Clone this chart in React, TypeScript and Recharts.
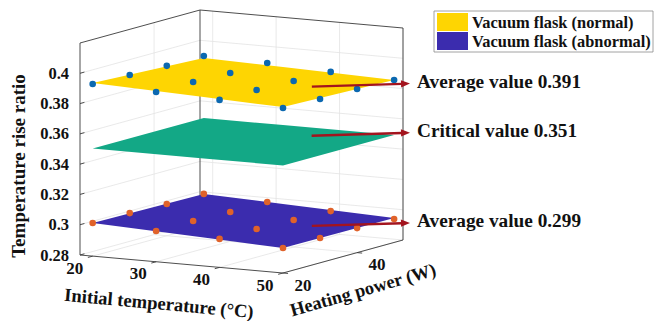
import React from 'react';
import {
  ComposedChart,
  Area,
  Scatter,
  XAxis,
  YAxis,
  ReferenceLine,
  ReferenceDot,
  ReferenceArea,
} from 'recharts';

// ---------------- data ----------------
const initialTemps = [20, 30, 40, 50]; // °C
const heatingPowers = [20, 30, 40, 50]; // W

// measured ratios, vacuum flask (normal), one array per heating power, across initialTemps
const normal20W = [0.3937, 0.3921, 0.3906, 0.389];
const normal30W = [0.3929, 0.392, 0.3904, 0.3882];
const normal40W = [0.3922, 0.3912, 0.3896, 0.3881];
const normal50W = [0.392, 0.3911, 0.3889, 0.3873];

// measured ratios, vacuum flask (abnormal)
const abnormal20W = [0.3019, 0.3003, 0.2988, 0.2965];
const abnormal30W = [0.3017, 0.3002, 0.2986, 0.2964];
const abnormal40W = [0.301, 0.2994, 0.2978, 0.2962];
const abnormal50W = [0.3009, 0.2993, 0.297, 0.2955];

// fitted planes: values at corners [20°C/20W, 20°C/50W, 50°C/20W, 50°C/50W]
const planeTemps = [20, 50];
const planePowers = [20, 50];
const normalPlane = [0.3943, 0.3907, 0.3896, 0.3873];
const criticalPlane = [0.351, 0.351, 0.351, 0.351];
const abnormalPlane = [0.3019, 0.3009, 0.2965, 0.2961];

const annotationValues = [0.391, 0.351, 0.299];
const annotationLabels = ['Average value 0.391', 'Critical value 0.351', 'Average value 0.299'];
const annotationAt = [
  [45.5, 35.5],
  [40.5, 44],
  [45.5, 35.5],
];

// axes
const tempLimits = [18, 50];
const powerLimits = [20, 52.4];
const ratioLimits = [0.28, 0.42];
const tempTicks = [20, 30, 40, 50];
const powerTicks = [20, 40];
const ratioTicks = [0.28, 0.3, 0.32, 0.34, 0.36, 0.38, 0.4];
const ratioTickLabels = ['0.28', '0.3', '0.32', '0.34', '0.36', '0.38', '0.4'];
const legendLabels = ['Vacuum flask (normal)', 'Vacuum flask (abnormal)'];

// ---------------- layout / styles ----------------
const W = 655;
const H = 321;
const FONT = '"Liberation Serif", "Times New Roman", serif';
const ORIGIN = { u: 80, v: 255 };
const EX = { u: 203 / 32, v: 18 / 32 };
const EY = { u: 120 / 32.4, v: -33 / 32.4 };
const EZ = -212 / 0.14;
const COLORS = {
  normal: '#FED502',
  critical: '#13A886',
  abnormal: '#3B2CAE',
  normalDot: '#0B68B0',
  abnormalDot: '#E0622A',
  arrow: '#A3141E',
  grid: '#E3E3E3',
  box: '#3A3A3A',
};
const ARROW_HEAD_U = 410;
const LEGEND = { u1: 434, u2: 653, v1: 11, v2: 52, sw1: 437, sw2: 468, textU: 472 };
const Z_LINES = -10;
const Z_PLANES = 100;
const Z_TOP = 1500;

function proj(t: number, p: number, r: number) {
  const dt = t - tempLimits[0];
  const dp = p - powerLimits[0];
  const dr = r - ratioLimits[0];
  return {
    u: ORIGIN.u + dt * EX.u + dp * EY.u,
    v: ORIGIN.v + dt * EX.v + dp * EY.v + dr * EZ,
  };
}

function lerp(a: number, b: number, f: number) {
  return a + (b - a) * f;
}

function quad(z: number[]) {
  const [ta, tb] = planeTemps;
  const [pa, pb] = planePowers;
  const L = proj(ta, pa, z[0]);
  const B = proj(ta, pb, z[1]);
  const F = proj(tb, pa, z[2]);
  const R = proj(tb, pb, z[3]);
  return [
    [L.v, L.v],
    [B.v, lerp(L.v, F.v, (B.u - L.u) / (F.u - L.u))],
    [lerp(B.v, R.v, (F.u - B.u) / (R.u - B.u)), F.v],
    [R.v, R.v],
  ];
}

const planeU = [
  proj(planeTemps[0], planePowers[0], 0).u,
  proj(planeTemps[0], planePowers[1], 0).u,
  proj(planeTemps[1], planePowers[0], 0).u,
  proj(planeTemps[1], planePowers[1], 0).u,
];
const qN = quad(normalPlane);
const qC = quad(criticalPlane);
const qA = quad(abnormalPlane);
const planeRows = planeU.map((u, i) => ({ u, normal: qN[i], critical: qC[i], abnormal: qA[i] }));

function points(rows: number[][]) {
  const out: { u: number; v: number }[] = [];
  rows.forEach((row, j) =>
    row.forEach((r, i) => {
      out.push(proj(initialTemps[i], heatingPowers[j], r));
    })
  );
  return out;
}
const normalPoints = points([normal20W, normal30W, normal40W, normal50W]);
const abnormalPoints = points([abnormal20W, abnormal30W, abnormal40W, abnormal50W]);

// --------------- helpers ---------------
type Seg = [{ u: number; v: number }, { u: number; v: number }];

function seg(key: string, s: Seg, stroke: string, width: number, z: number, shape?: any) {
  const extra: any = { zIndex: z };
  return (
    <ReferenceLine
      key={key}
      segment={[
        { x: s[0].u, y: s[0].v },
        { x: s[1].u, y: s[1].v },
      ]}
      stroke={stroke}
      strokeWidth={width}
      ifOverflow="visible"
      shape={shape}
      {...extra}
    />
  );
}

function text(
  key: string,
  u: number,
  v: number,
  value: string,
  size: number,
  anchor: 'start' | 'middle' | 'end' = 'middle',
  angle = 0
) {
  const extra: any = { zIndex: Z_TOP };
  return (
    <ReferenceDot
      key={key}
      x={u}
      y={v}
      r={0}
      fill="none"
      stroke="none"
      ifOverflow="visible"
      {...extra}
      label={(props: any) => {
        const vb = props.viewBox || { x: 0, y: 0, width: 0, height: 0 };
        const cx = vb.x + (vb.width || 0) / 2;
        const cy = vb.y + (vb.height || 0) / 2;
        return (
          <text
            x={cx}
            y={cy}
            textAnchor={anchor}
            dominantBaseline="central"
            fontFamily={FONT}
            fontWeight="bold"
            fontSize={size}
            fill="#111"
            transform={angle ? `rotate(${angle} ${cx} ${cy})` : undefined}
          >
            {value}
          </text>
        );
      }}
    />
  );
}

const arrowShape = (props: any) => {
  const { x1, y1, x2, y2 } = props;
  const a = Math.atan2(y2 - y1, x2 - x1);
  const len = 9;
  const hw = 3.6;
  const bx = x2 - len * Math.cos(a);
  const by = y2 - len * Math.sin(a);
  const nx = -Math.sin(a) * hw;
  const ny = Math.cos(a) * hw;
  return (
    <g>
      <line x1={x1} y1={y1} x2={bx + 1} y2={by} stroke={COLORS.arrow} strokeWidth={2.4} />
      <polygon
        points={`${x2},${y2} ${bx + nx},${by + ny} ${bx - nx},${by - ny}`}
        fill={COLORS.arrow}
      />
    </g>
  );
};

const dot = (color: string) => (props: any) => (
  <circle cx={props.cx} cy={props.cy} r={3.3} fill={color} />
);

// --------------- geometry of box and grid ---------------
const [t0, t1] = tempLimits;
const [p0, p1] = powerLimits;
const [r0, r1] = ratioLimits;

const gridSegs: Seg[] = [];
ratioTicks.forEach((r) => {
  gridSegs.push([proj(t0, p0, r), proj(t0, p1, r)]);
  gridSegs.push([proj(t0, p1, r), proj(t1, p1, r)]);
});
powerTicks.forEach((p) => {
  if (p > p0) {
    gridSegs.push([proj(t0, p, r0), proj(t0, p, r1)]);
    gridSegs.push([proj(t0, p, r0), proj(t1, p, r0)]);
  }
});
tempTicks.forEach((t) => {
  gridSegs.push([proj(t, p1, r0), proj(t, p1, r1)]);
  gridSegs.push([proj(t, p0, r0), proj(t, p1, r0)]);
});

const boxSegs: Seg[] = [
  [proj(t0, p0, r0), proj(t0, p0, r1)],
  [proj(t0, p1, r0), proj(t0, p1, r1)],
  [proj(t1, p1, r0), proj(t1, p1, r1)],
  [proj(t0, p0, r1), proj(t0, p1, r1)],
  [proj(t0, p1, r1), proj(t1, p1, r1)],
  [proj(t0, p0, r0), proj(t1, p0, r0)],
  [proj(t1, p0, r0), proj(t1, p1, r0)],
];

const tickSegs: Seg[] = [];
tempTicks.forEach((t) => tickSegs.push([proj(t, p0, r0), proj(t, p0 - 1.3, r0)]));
powerTicks.forEach((p) => tickSegs.push([proj(t1, p, r0), proj(t1 + 0.8, p, r0)]));
ratioTicks.forEach((r) => tickSegs.push([proj(t0, p0, r), proj(t0, p0 + 1.2, r)]));

const planeZ: any = { zIndex: Z_PLANES };
const topZ: any = { zIndex: Z_TOP - 100 };

export default function App() {
  return (
    <div style={{ position: 'absolute', left: 0, top: 0, width: W, height: H, background: '#fff' }}>
      <ComposedChart
        width={W}
        height={H}
        data={planeRows}
        margin={{ top: 0, right: 0, bottom: 0, left: 0 }}
      >
        <XAxis dataKey="u" type="number" domain={[0, W]} hide allowDataOverflow />
        <YAxis dataKey="v" type="number" domain={[0, H]} reversed hide allowDataOverflow />

        {gridSegs.map((s, i) => seg(`g${i}`, s, COLORS.grid, 0.8, Z_LINES))}
        {boxSegs.map((s, i) => seg(`b${i}`, s, COLORS.box, 0.9, Z_LINES + 1))}
        {tickSegs.map((s, i) => seg(`t${i}`, s, COLORS.box, 0.9, Z_LINES + 1))}

        <Area
          dataKey="abnormal"
          type="linear"
          stroke="none"
          fill={COLORS.abnormal}
          fillOpacity={1}
          dot={false}
          activeDot={false}
          isAnimationActive={false}
          {...planeZ}
        />
        <Area
          dataKey="critical"
          type="linear"
          stroke="none"
          fill={COLORS.critical}
          fillOpacity={1}
          dot={false}
          activeDot={false}
          isAnimationActive={false}
          {...planeZ}
        />
        <Area
          dataKey="normal"
          type="linear"
          stroke="none"
          fill={COLORS.normal}
          fillOpacity={1}
          dot={false}
          activeDot={false}
          isAnimationActive={false}
          {...planeZ}
        />

        <Scatter data={normalPoints} shape={dot(COLORS.normalDot)} isAnimationActive={false} {...topZ} />
        <Scatter data={abnormalPoints} shape={dot(COLORS.abnormalDot)} isAnimationActive={false} {...topZ} />

        {annotationValues.map((val, i) => {
          const tail = proj(annotationAt[i][0], annotationAt[i][1], val);
          const head = { u: ARROW_HEAD_U, v: tail.v - 3 };
          return seg(`a${i}`, [tail, head], COLORS.arrow, 2.4, Z_TOP, arrowShape);
        })}
        {annotationValues.map((val, i) => {
          const tail = proj(annotationAt[i][0], annotationAt[i][1], val);
          return text(`at${i}`, ARROW_HEAD_U + 7, tail.v - 5, annotationLabels[i], 19.3, 'start');
        })}

        {ratioTicks.map((r, i) => {
          const p = proj(t0, p0, r);
          return text(`rt${i}`, p.u - 11, p.v, ratioTickLabels[i], 16.5, 'end');
        })}
        {tempTicks.map((t, i) => {
          const p = proj(t, p0, r0);
          return text(`tt${i}`, p.u - 18, p.v + 12, String(t), 17);
        })}
        {powerTicks.map((pw, i) => {
          const p = proj(t1, pw, r0);
          return text(`pt${i}`, p.u + 20, p.v + 12, String(pw), 17);
        })}

        {text('xl', 159, 303, 'Initial temperature (°C)', 18.6, 'middle', 5.2)}
        {text('yl', 363, 290, 'Heating power (W)', 18.4, 'middle', -16)}
        {text('zl', 18, 166, 'Temperature rise ratio', 19, 'middle', -90)}

        <ReferenceArea
          x1={LEGEND.u1}
          x2={LEGEND.u2}
          y1={LEGEND.v1}
          y2={LEGEND.v2}
          fill="#fff"
          fillOpacity={1}
          stroke="#8a8a8a"
          strokeWidth={0.8}
          ifOverflow="visible"
        />
        <ReferenceArea
          x1={LEGEND.sw1}
          x2={LEGEND.sw2}
          y1={13}
          y2={31}
          fill={COLORS.normal}
          fillOpacity={1}
          stroke="none"
          ifOverflow="visible"
        />
        <ReferenceArea
          x1={LEGEND.sw1}
          x2={LEGEND.sw2}
          y1={32}
          y2={50}
          fill={COLORS.abnormal}
          fillOpacity={1}
          stroke="none"
          ifOverflow="visible"
        />
        {text('l0', LEGEND.textU, 22.5, legendLabels[0], 16.4, 'start')}
        {text('l1', LEGEND.textU, 41.5, legendLabels[1], 16.4, 'start')}
      </ComposedChart>
    </div>
  );
}
